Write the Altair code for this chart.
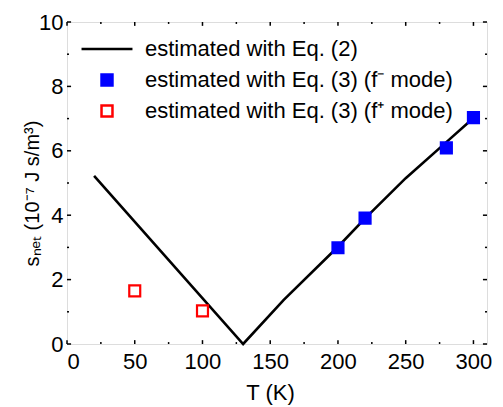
import altair as alt
import pandas as pd

# ---- data ----
line_T = [20, 130, 160, 200, 220, 250, 280, 300]
line_s = [5.22, 0.0, 1.37, 3.02, 3.90, 5.15, 6.27, 7.02]

fminus_T = [200, 220, 280, 300]
fminus_s = [2.99, 3.91, 6.09, 7.03]

fplus_T = [50, 100]
fplus_s = [1.65, 1.03]

series_names = [
    "estimated with Eq. (2)",
    "estimated with Eq. (3) (f\u207b mode)",
    "estimated with Eq. (3) (f\u207a mode)",
]

x_major = [0, 50, 100, 150, 200, 250, 300]
x_minor = [25, 75, 125, 175, 225, 275]
y_major = [0, 2, 4, 6, 8, 10]
y_minor = [1, 3, 5, 7, 9]

X_MAX = 310
Y_MAX = 10
FONT = "Liberation Sans"

line_df = pd.DataFrame({"T": line_T, "s": line_s})
pts_df = pd.concat([
    pd.DataFrame({"T": fminus_T, "s": fminus_s, "series": series_names[1]}),
    pd.DataFrame({"T": fplus_T, "s": fplus_s, "series": series_names[2]}),
])

xs = alt.Scale(domain=[0, X_MAX], nice=False, zero=False)
ys = alt.Scale(domain=[0, Y_MAX], nice=False, zero=False)

x_enc = alt.X("T:Q", scale=xs, axis=alt.Axis(
    values=x_major, title="T (K)", domain=False, ticks=False, grid=False,
    labelFontSize=22, labelPadding=7, labelFont=FONT,
    titleFontSize=22, titleFont=FONT, titleFontWeight="normal",
    titleX=203, titleY=55, titleBaseline="alphabetic", titleAlign="center"))
y_enc = alt.Y("s:Q", scale=ys, axis=alt.Axis(
    values=y_major, title="s\u2099\u2091\u209c (10\u207b\u2077 J s/m\u00b3)",
    domain=False, ticks=False, grid=False,
    labelFontSize=22, labelPadding=4, labelFont=FONT,
    titleFontSize=20, titleFont=FONT, titleFontWeight="normal",
    titleX=-35, titleY=171, titleAngle=-90, titleAlign="center",
    titleBaseline="middle"))

line = alt.Chart(line_df).mark_line(color="black", strokeWidth=2.6).encode(
    x=x_enc, y=y_enc)

leg = alt.Legend(title=None, orient="none", legendX=29, legendY=16,
                 labelFontSize=22, labelFont=FONT, labelOffset=27,
                 labelLimit=0, symbolSize=120,
                 symbolStrokeWidth=2.5, rowPadding=9, padding=0)

LINE_SYMBOL = "M-4.65,0H4.65"

points = alt.Chart(pts_df).mark_point(filled=True, opacity=1, strokeWidth=2.2,
                                      size=120).encode(
    x=alt.X("T:Q", scale=xs),
    y=alt.Y("s:Q", scale=ys),
    shape=alt.Shape("series:N", scale=alt.Scale(domain=series_names,
                    range=[LINE_SYMBOL, "square", "square"]), legend=leg),
    fill=alt.Fill("series:N", scale=alt.Scale(domain=series_names,
                  range=["transparent", "#0000ff", "white"]), legend=leg),
    stroke=alt.Stroke("series:N", scale=alt.Scale(domain=series_names,
                      range=["black", "#0000ff", "#ff0000"]), legend=leg),
)

# inward ticks drawn in data units
MAJ_Y, MIN_Y = 0.12, 0.06
MAJ_X, MIN_X = 3.0, 1.5

def xticks(vals, ln):
    df = pd.DataFrame({"v": vals})
    bot = alt.Chart(df).mark_rule(color="black", strokeWidth=1.5).encode(
        x=alt.X("v:Q", scale=xs), y=alt.Y("a:Q", scale=ys),
        y2="b:Q").transform_calculate(a="0", b=str(ln))
    top = alt.Chart(df).mark_rule(color="black", strokeWidth=1.5).encode(
        x=alt.X("v:Q", scale=xs), y=alt.Y("a:Q", scale=ys),
        y2="b:Q").transform_calculate(a=str(Y_MAX), b=str(Y_MAX - ln))
    return [bot, top]

def yticks(vals, ln):
    df = pd.DataFrame({"v": vals})
    left = alt.Chart(df).mark_rule(color="black", strokeWidth=1.5).encode(
        y=alt.Y("v:Q", scale=ys), x=alt.X("a:Q", scale=xs),
        x2="b:Q").transform_calculate(a="0", b=str(ln))
    right = alt.Chart(df).mark_rule(color="black", strokeWidth=1.5).encode(
        y=alt.Y("v:Q", scale=ys), x=alt.X("a:Q", scale=xs),
        x2="b:Q").transform_calculate(a=str(X_MAX), b=str(X_MAX - ln))
    return [left, right]

tick_layers = (xticks(x_major, MAJ_Y) + xticks(x_minor, MIN_Y)
               + yticks(y_major, MAJ_X) + yticks(y_minor, MIN_X))

chart = alt.layer(line, *tick_layers, points).properties(
    width=420, height=322,
    autosize=alt.AutoSizeParams(type="none"),
    padding={"left": 59, "top": 14, "right": 8, "bottom": 63},
).configure_view(stroke="black", strokeWidth=2).configure(
    font=FONT
).configure_axis(labelColor="black", titleColor="black")

chart.save("out.html", embed_options={"renderer": "svg", "actions": False})
